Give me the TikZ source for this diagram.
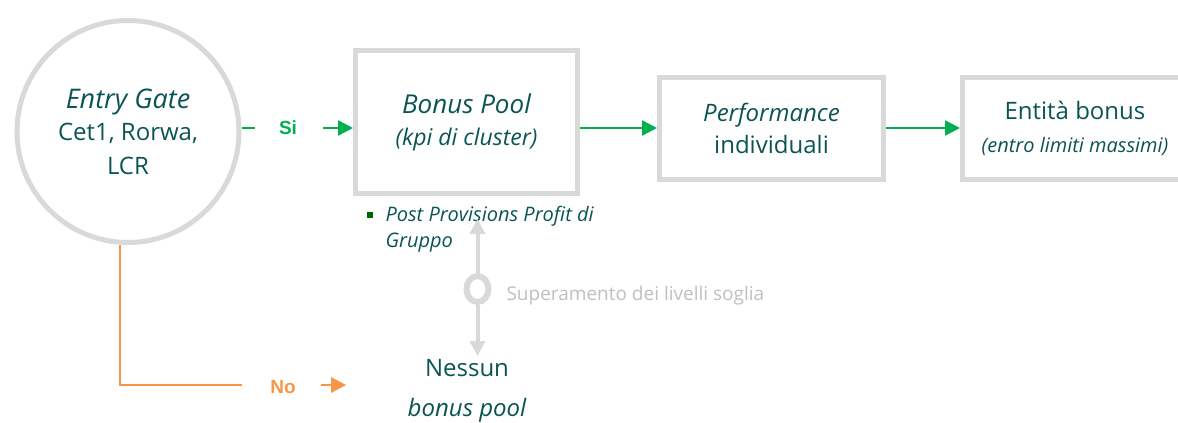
\documentclass[tikz,border=0pt]{standalone}
\usepackage{fontspec}
\setmainfont{Open Sans}
\newfontfamily\labelfont{Liberation Sans}
\usetikzlibrary{positioning,arrows.meta,shapes.geometric}

\definecolor{tealtext}{RGB}{12,84,84}
\definecolor{gategreen}{RGB}{0,176,80}
\definecolor{noorange}{RGB}{247,150,70}
\definecolor{framegray}{RGB}{217,217,217}
\definecolor{softgray}{RGB}{191,191,191}
\definecolor{bulletgreen}{RGB}{0,102,0}

\tikzstyle{block} = [draw=framegray, line width=5pt, rectangle, align=center, text=tealtext,
    font=\fontsize{24}{32}\selectfont]
\tikzstyle{gate} = [draw=framegray, line width=5pt, circle, minimum size=222pt, align=center,
    text=tealtext, font=\fontsize{24}{34}\selectfont]
\tikzstyle{inout} = [rectangle, align=center, text=tealtext]
\tikzstyle{answer} = [rectangle, font=\labelfont\bfseries\fontsize{19}{20}\selectfont]
\tikzstyle{yesline} = [gategreen, line width=2.5pt]
\tikzstyle{noline} = [noorange, line width=2.5pt]
\tikzstyle{checkline} = [framegray, line width=4pt]

\begin{document}
\begin{tikzpicture}[x=1pt, y=-1pt, >={Triangle[length=15pt,width=15pt]}]
    \useasboundingbox (0,0) rectangle (1178,423);
    \node [gate] (gate) at (128,131.5)
        {{\fontsize{27}{34}\selectfont\itshape Entry Gate}\\[-2pt]Cet1, Rorwa,\\LCR};
    \node [block, minimum width=222pt, minimum height=143pt] (bonus) at (466.5,122)
        {{\fontsize{26}{32}\selectfont\itshape Bonus Pool}\\{\fontsize{23}{24}\selectfont\itshape (kpi di cluster)}};
    \node [block, minimum width=224pt, minimum height=102pt] (perf) at (771.5,128)
        {{\itshape Performance}\\individuali};
    \node [block, minimum width=225pt, minimum height=102pt] (entity) at (1075,128)
        {Entità bonus\\[1pt]{\fontsize{20}{20}\selectfont\itshape (entro limiti massimi)}};
    \node [answer, text=gategreen] (si) at (288,128) {Si};
    \node [answer, text=noorange] (no) at (283,387) {No};
    \node [inout, anchor=west, align=left, font=\fontsize{20}{26}\selectfont\itshape]
        (profit) at (382,229) {Post Provisions Profit di\\Gruppo};
    \node [inout, font=\fontsize{24}{40}\selectfont] (nessun) at (467,391)
        {Nessun\\{\itshape bonus pool}};
    \node [draw=framegray, line width=6pt, ellipse, inner sep=0pt, minimum width=22pt,
        minimum height=26pt] (ring) at (477.5,289) {};
    \node [inout, anchor=west, text=softgray, font=\fontsize{19}{20}\selectfont]
        (soglia) at (503,296) {Superamento dei livelli soglia};
    \node [coordinate] (up) at (477.5,219) {};
    \fill [bulletgreen] (370,215) +(-3,-3) rectangle +(3,3);

    % si / no
    \draw [yesline, shorten >=20pt] (gate.east |- si.west) -- (si.west);
    \draw [yesline, ->, shorten <=22pt] (si.east) -- (bonus.west |- si.east);
    \draw [noline, shorten >=25pt] ([xshift=-8pt]gate.south) |- (no.west |- 0,385);
    \draw [noline, ->, shorten <=22pt, shorten >=58pt] (no.east |- 0,385) -- (nessun.west |- 0,385);

    % catena
    \draw [yesline, ->] (bonus.east |- perf.west) -- (perf.west);
    \draw [yesline, ->] (perf.east) -- (entity.west);

    % soglia
    \draw [checkline, ->] (ring) -- (up);
    \draw [checkline, ->] (ring) -- (ring |- nessun.north);
\end{tikzpicture}
\end{document}
